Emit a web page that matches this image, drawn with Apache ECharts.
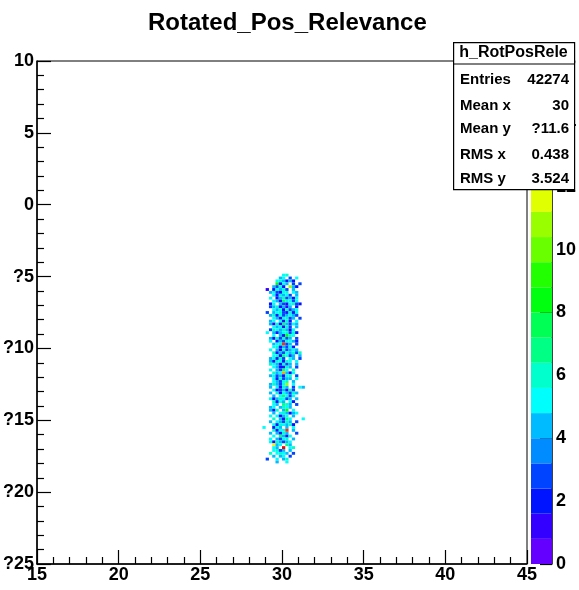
<!DOCTYPE html>
<html>
<head>
<meta charset="utf-8">
<script src="https://cdn.jsdelivr.net/npm/echarts@6/dist/echarts.min.js"></script>
<style>
  html, body { margin: 0; padding: 0; background: #fff; }
  #chart { width: 579px; height: 590px; }
</style>
</head>
<body>
<div id="chart"></div>
<script>
// Axis ranges and tick labels
const xRange = [15, 45];
const yRange = [-25, 10];
const xTicks = [15, 20, 25, 30, 35, 40, 45];
const xTickLabels = ['15', '20', '25', '30', '35', '40', '45'];
const yTicks = [-25, -20, -15, -10, -5, 0, 5, 10];
const yTickLabels = ['?25', '?20', '?15', '?10', '?5', '0', '5', '10'];
const zTicks = [0, 2, 4, 6, 8, 10, 12, 14, 16];
const zTickLabels = ['0', '2', '4', '6', '8', '10', '12', '14', '16'];

// Histogram binning
const binWidthX = 0.2;
const binWidthY = 0.2;
const firstBinX = 28.8;      // low edge of the first column below
const firstBinTopY = -4.8;   // upper edge of the first row below
const zMax = 16;
const nContours = 20;

// Bin contents, one string per row (top to bottom), one char per column.
// '.' = empty, 1-9 as digits, 10-16 as a-g.
const cellRows = [
  "......56......",
  ".....45.3.5...",
  "....564242....",
  "....8254.3.3..",
  "...4352.b42...",
  ".1.25463.4....",
  "..453256.54...",
  "...526453.4...",
  "..5.2463425...",
  "...54276535...",
  "..25.4325632..",
  "..3462414.2...",
  "...54526345...",
  ".3.45632625...",
  "..462534543...",
  "...5425634.3..",
  "..45.5262.5...",
  "..416274354...",
  "...545263.4...",
  "..36546425....",
  ".5.42456362...",
  "...5.42865....",
  "..4263634.3...",
  "..5.2436542...",
  "...456f34.3...",
  "...5624352....",
  "..5.4263454...",
  "...624354636..",
  "...5627534.4..",
  "..45263.54.3..",
  "..4265265.5...",
  "..6542534.4...",
  "...542264.3...",
  "..5.4375.6....",
  "...645d425....",
  "..4534256.3...",
  "...526344.5...",
  "...54356.4....",
  "..46435b.5....",
  "..4.5264.3.54.",
  "...5234263....",
  "..4.6254364...",
  "...4.57535....",
  "..5246534.4...",
  "...6254.52....",
  "...54.764.3...",
  "..45.4654.....",
  "..426.48.5....",
  "...4.564245...",
  "..5.5245.4....",
  "...6.4275...5.",
  "..4.54364.3...",
  "...5265462....",
  "5..254.4.5....",
  "...6255f.4....",
  "..4.4264..3...",
  "...5.7425.....",
  "..5.4356.4....",
  "..5264345.....",
  "...c45.74.....",
  "...54.g.56....",
  "...5634.4.....",
  "..6.5654.3....",
  "...4.45.3.....",
  ".3..5.46......",
  "....4..5......"
];

// Statistics box
const statsTitle = 'h_RotPosRele';
const statsNames = ['Entries', 'Mean x', 'Mean y', 'RMS x', 'RMS y'];
const statsValues = ['42274', '30', '?11.6', '0.438', '3.524'];

const chartTitle = 'Rotated_Pos_Relevance';

// Violet -> red "pretty" palette (HLS, lightness 0.5, saturation 1)
function hueToRgb(h) {
  h = ((h % 360) + 360) % 360;
  const seg = h / 60;
  const x = 1 - Math.abs((seg % 2) - 1);
  let r = 0, g = 0, b = 0;
  if (seg < 1) { r = 1; g = x; }
  else if (seg < 2) { r = x; g = 1; }
  else if (seg < 3) { g = 1; b = x; }
  else if (seg < 4) { g = x; b = 1; }
  else if (seg < 5) { r = x; b = 1; }
  else { r = 1; b = x; }
  const to = v => Math.round(v * 255);
  return 'rgb(' + to(r) + ',' + to(g) + ',' + to(b) + ')';
}
const prettyPalette = [];
for (let i = 0; i < 50; i++) prettyPalette.push(hueToRgb(280 - (i + 1) * (280 / 50)));
function contourColor(k) {
  const idx = Math.min(49, Math.floor((k + 0.99) * 50 / nContours));
  return prettyPalette[idx];
}
function valueColor(v) {
  const k = Math.min(nContours - 1, Math.floor(v / (zMax / nContours)));
  return contourColor(k);
}

// Build cells: [lowX, lowY, content]
const cells = [];
cellRows.forEach((row, r) => {
  for (let c = 0; c < row.length; c++) {
    const ch = row[c];
    if (ch === '.') continue;
    const v = parseInt(ch, 36);
    const x0 = firstBinX + c * binWidthX;
    const yTop = firstBinTopY - r * binWidthY;
    cells.push([x0, yTop - binWidthY, v]);
  }
});

// Palette bands
const bands = [];
for (let k = 0; k < nContours; k++) bands.push([k * zMax / nContours, (k + 1) * zMax / nContours, k]);

const FONT = '"Liberation Sans", Arial, Helvetica, sans-serif';
const labelStyle = { color: '#000', fontFamily: FONT, fontWeight: 'bold', fontSize: 18 };

const chart = echarts.init(document.getElementById('chart'), null, { renderer: 'canvas' });

const statsLeft = 453, statsTop = 42, statsW = 121, statsH = 147;
const rowY = [80, 106, 129, 155, 179];
const statsGraphics = [
  { type: 'rect', left: statsLeft, top: statsTop, z: 100,
    shape: { width: statsW, height: statsH },
    style: { fill: '#fff', stroke: '#000', lineWidth: 1.2 } },
  { type: 'line', z: 101, shape: { x1: statsLeft, y1: 64, x2: statsLeft + statsW, y2: 64 },
    style: { stroke: '#000', lineWidth: 1 } },
  { type: 'text', z: 101, x: statsLeft + statsW / 2, y: 53,
    style: { text: statsTitle, fill: '#000', font: 'bold 16px ' + FONT, align: 'center', verticalAlign: 'middle' } }
];
statsNames.forEach((n, i) => {
  statsGraphics.push({ type: 'text', z: 101, x: 460, y: rowY[i],
    style: { text: n, fill: '#000', font: 'bold 15px ' + FONT, align: 'left', verticalAlign: 'middle' } });
  statsGraphics.push({ type: 'text', z: 101, x: 569, y: rowY[i],
    style: { text: statsValues[i], fill: '#000', font: 'bold 15px ' + FONT, align: 'right', verticalAlign: 'middle' } });
});

chart.setOption({
  animation: false,
  backgroundColor: '#fff',
  title: {
    text: chartTitle, left: 143, top: 6,
    textStyle: { color: '#000', fontFamily: FONT, fontWeight: 'bold', fontSize: 24 }
  },
  grid: [
    { left: 36, top: 61, width: 491, height: 503, show: true, borderColor: '#000', borderWidth: 1, backgroundColor: 'transparent' },
    { left: 531, top: 61, width: 25, height: 503, show: false }
  ],
  xAxis: [
    {
      gridIndex: 0, type: 'value', min: xRange[0], max: xRange[1], interval: 5,
      axisLine: { show: true, onZero: false, lineStyle: { color: '#000', width: 1.5 } },
      axisTick: { show: true, inside: true, length: 14, lineStyle: { color: '#000', width: 1.2 } },
      minorTick: { show: true, splitNumber: 5, length: 7, lineStyle: { color: '#000', width: 1.2 } },
      splitLine: { show: false },
      axisLabel: Object.assign({ margin: 2, formatter: v => xTickLabels[xTicks.indexOf(v)] }, labelStyle)
    },
    { gridIndex: 1, type: 'value', min: 0, max: 1, show: false }
  ],
  yAxis: [
    {
      gridIndex: 0, type: 'value', min: yRange[0], max: yRange[1], interval: 5,
      axisLine: { show: true, onZero: false, lineStyle: { color: '#000', width: 1.5 } },
      axisTick: { show: true, inside: true, length: 14, lineStyle: { color: '#000', width: 1.2 } },
      minorTick: { show: true, splitNumber: 5, length: 7, lineStyle: { color: '#000', width: 1.2 } },
      splitLine: { show: false },
      axisLabel: Object.assign({ margin: 3, formatter: v => yTickLabels[yTicks.indexOf(v)] }, labelStyle)
    },
    {
      gridIndex: 1, type: 'value', position: 'right', min: zTicks[0], max: zTicks[zTicks.length - 1], interval: 2,
      axisLine: { show: true, onZero: false, lineStyle: { color: '#000', width: 1.5 } },
      axisTick: { show: true, inside: true, length: 12, lineStyle: { color: '#000', width: 1.2 } },
      splitLine: { show: false },
      axisLabel: Object.assign({ margin: 4, formatter: v => zTickLabels[zTicks.indexOf(v)] }, labelStyle)
    }
  ],
  series: [
    {
      type: 'custom', xAxisIndex: 0, yAxisIndex: 0, data: cells,
      renderItem: function (params, api) {
        const x0 = api.value(0), y0 = api.value(1), v = api.value(2);
        const p = api.coord([x0, y0 + binWidthY]);
        const s = api.size([binWidthX, binWidthY]);
        return { type: 'rect', shape: { x: p[0], y: p[1], width: s[0], height: s[1] },
                 style: { fill: valueColor(v) } };
      }
    },
    {
      type: 'custom', xAxisIndex: 1, yAxisIndex: 1, data: bands,
      renderItem: function (params, api) {
        const lo = api.value(0), hi = api.value(1), k = api.value(2);
        const p0 = api.coord([0, hi]);
        const p1 = api.coord([1, lo]);
        return { type: 'rect', shape: { x: p0[0], y: p0[1], width: p1[0] - p0[0], height: p1[1] - p0[1] },
                 style: { fill: contourColor(k) } };
      }
    }
  ],
  graphic: statsGraphics
});
</script>
</body>
</html>
